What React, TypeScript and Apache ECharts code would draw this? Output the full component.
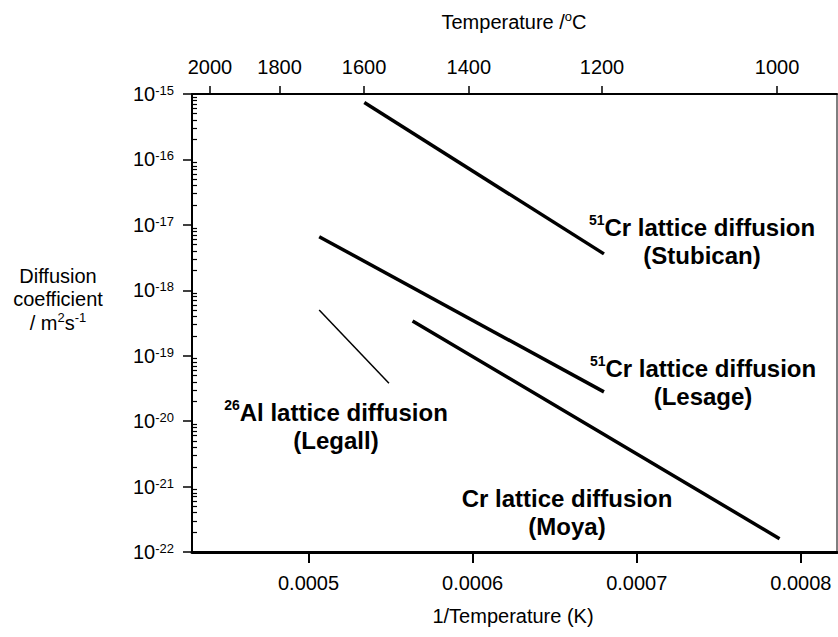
import React, { useEffect, useRef } from "react";
import * as echarts from "echarts";

// x: reciprocal temperature (1/K); D: diffusion coefficient (m^2/s)
const stubicanX = [0.000534, 0.00068];
const stubicanD = [7.4e-16, 3.6e-18];
const lesageX = [0.0005065, 0.00068];
const lesageD = [6.6e-18, 2.8e-20];
const legallX = [0.0005065, 0.000549];
const legallD = [5.0e-19, 3.8e-20];
const moyaX = [0.0005634, 0.000787];
const moyaD = [3.4e-19, 1.6e-22];

const xTickValues = [0.0005, 0.0006, 0.0007, 0.0008];
const tempTicksC = [2000, 1800, 1600, 1400, 1200, 1000];
const yExponents = [-22, -21, -20, -19, -18, -17, -16, -15];
const minorMultipliers = [2, 3, 4, 5, 6, 7, 8, 9];

const X_MIN = 0.000429;
const X_MAX = 0.000822;
const Y_MIN = 1e-22;
const Y_MAX = 1e-15;

const FONT = "'Liberation Sans', Arial, Helvetica, sans-serif";

function pairs(xs: number[], ys: number[]) {
  return xs.map((x, i) => [x, ys[i]]);
}

export default function App() {
  const ref = useRef<HTMLDivElement>(null);
  useEffect(() => {
    if (!ref.current) return;
    const chart = echarts.init(ref.current, undefined, { renderer: "svg" });
    const tempTickX = tempTicksC.map((t) => 1 / (t + 273.15));
    const expMin = yExponents[0];
    const expMax = yExponents[yExponents.length - 1];
    // positions (in decades) of the minor log ticks, for a decorative tick-only axis
    const minorPos: number[] = [];
    for (let i = 0; i < yExponents.length - 1; i++) {
      for (const k of minorMultipliers) minorPos.push(yExponents[i] + Math.log10(k));
    }
    const lineSeries = (name: string, xs: number[], ys: number[], w: number) => ({
      name,
      type: "line",
      xAxisIndex: 0,
      yAxisIndex: 0,
      data: pairs(xs, ys),
      showSymbol: false,
      symbol: "none",
      lineStyle: { color: "#000", width: w, cap: "butt" },
      silent: true,
    });
    const bold = { fontFamily: FONT, fontWeight: "bold", fontSize: 24, lineHeight: 28, fill: "#000" };
    const sup = { fontFamily: FONT, fontWeight: "bold", fontSize: 14, lineHeight: 13, verticalAlign: "top", fill: "#000" };
    const label = (x: number, y: number, text: string) => ({
      type: "text",
      x,
      y,
      style: {
        text,
        align: "center",
        verticalAlign: "top",
        fill: "#000",
        font: `bold 24px ${FONT}`,
        rich: { b: bold, s: sup },
      },
    });
    const reg = { fontFamily: FONT, fontSize: 20, lineHeight: 23.5, fill: "#000" };
    const regSup = { fontFamily: FONT, fontSize: 13, lineHeight: 12, verticalAlign: "top", fill: "#000" };

    chart.setOption({
      animation: false,
      backgroundColor: "#fff",
      textStyle: { fontFamily: FONT },
      grid: {
        left: 192,
        top: 94,
        right: 1,
        bottom: 85,
        show: true,
        borderColor: "#000",
        borderWidth: 1,
        backgroundColor: "transparent",
        containLabel: false,
        outerBoundsMode: "none",
      },
      xAxis: [
        {
          type: "value",
          position: "bottom",
          min: X_MIN,
          max: X_MAX,
          splitLine: { show: false },
          axisLine: { show: true, onZero: false, lineStyle: { color: "#000", width: 3 } },
          axisTick: { show: true, inside: false, length: 11, lineStyle: { color: "#000", width: 2 }, customValues: xTickValues },
          axisLabel: {
            customValues: xTickValues,
            formatter: (v: number) => v.toFixed(4),
            fontSize: 20,
            color: "#000",
            margin: 21,
            fontFamily: FONT,
          },
        },
        {
          type: "value",
          position: "top",
          min: X_MIN,
          max: X_MAX,
          splitLine: { show: false },
          axisLine: { show: true, onZero: false, lineStyle: { color: "#000", width: 2 } },
          axisTick: { show: true, inside: false, length: 8, lineStyle: { color: "#000", width: 1.5 }, customValues: tempTickX },
          axisLabel: {
            customValues: tempTickX,
            formatter: (v: number) => String(Math.round(1 / v - 273.15)),
            fontSize: 20,
            color: "#000",
            margin: 17,
            fontFamily: FONT,
          },
        },
      ],
      yAxis: [
        {
          type: "log",
          logBase: 10,
          position: "left",
          min: Y_MIN,
          max: Y_MAX,
          splitLine: { show: false },
          axisLine: { show: true, onZero: false, lineStyle: { color: "#000", width: 2 } },
          axisTick: { show: false },
          axisLabel: { show: false },
        },
        {
          // decade labels + outward major ticks (same pixel extent, in decades)
          type: "value",
          position: "left",
          min: expMin,
          max: expMax,
          interval: 1,
          splitLine: { show: false },
          axisLine: { show: false, onZero: false },
          axisTick: { show: true, inside: false, length: 9, lineStyle: { color: "#000", width: 1.5 } },
          axisLabel: {
            margin: 18,
            color: "#000",
            fontSize: 20,
            fontFamily: FONT,
            showMinLabel: true,
            showMaxLabel: true,
            formatter: (v: number) => `{b|10}{s|${Math.round(v)}}`,
            rich: {
              b: { fontFamily: FONT, fontSize: 20, lineHeight: 20, color: "#000" },
              s: { fontFamily: FONT, fontSize: 13, lineHeight: 13, verticalAlign: "top", color: "#000" },
            },
          },
        },
        {
          // minor log ticks pointing inward
          type: "value",
          position: "left",
          min: expMin,
          max: expMax,
          splitLine: { show: false },
          axisLine: { show: false, onZero: false },
          axisLabel: { show: false },
          axisTick: { show: true, inside: true, length: 5, lineStyle: { color: "#000", width: 1.2 }, customValues: minorPos },
        },
      ],
      series: [
        lineSeries("Stubican", stubicanX, stubicanD, 3.5),
        lineSeries("Lesage", lesageX, lesageD, 3.5),
        lineSeries("Legall", legallX, legallD, 1.5),
        lineSeries("Moya", moyaX, moyaD, 3.5),
      ],
      graphic: [
        label(702, 213, "{s|51}{b|Cr lattice diffusion}\n{b|(Stubican)}"),
        label(703, 354, "{s|51}{b|Cr lattice diffusion}\n{b|(Lesage)}"),
        label(336, 398, "{s|26}{b|Al lattice diffusion}\n{b|(Legall)}"),
        label(567, 484, "{b|Cr lattice diffusion}\n{b|(Moya)}"),
        {
          type: "text",
          x: 58,
          y: 264,
          style: {
            text: "{r|Diffusion}\n{r|coefficient}\n{r|/ m}{q|2}{r|s}{q|-1}",
            align: "center",
            verticalAlign: "top",
            fill: "#000",
            font: `20px ${FONT}`,
            rich: { r: reg, q: regSup },
          },
        },
        {
          type: "text",
          x: 514,
          y: 10,
          style: {
            text: "{r|Temperature /}{q|o}{r|C}",
            align: "center",
            verticalAlign: "top",
            fill: "#000",
            font: `20px ${FONT}`,
            rich: { r: reg, q: regSup },
          },
        },
        {
          type: "text",
          x: 513,
          y: 606,
          style: {
            text: "1/Temperature (K)",
            align: "center",
            verticalAlign: "top",
            fill: "#000",
            font: `20px ${FONT}`,
          },
        },
      ],
    });
    return () => chart.dispose();
  }, []);
  return (
    <div
      ref={ref}
      style={{ position: "absolute", left: 0, top: 0, width: 838, height: 637, background: "#fff" }}
    />
  );
}
